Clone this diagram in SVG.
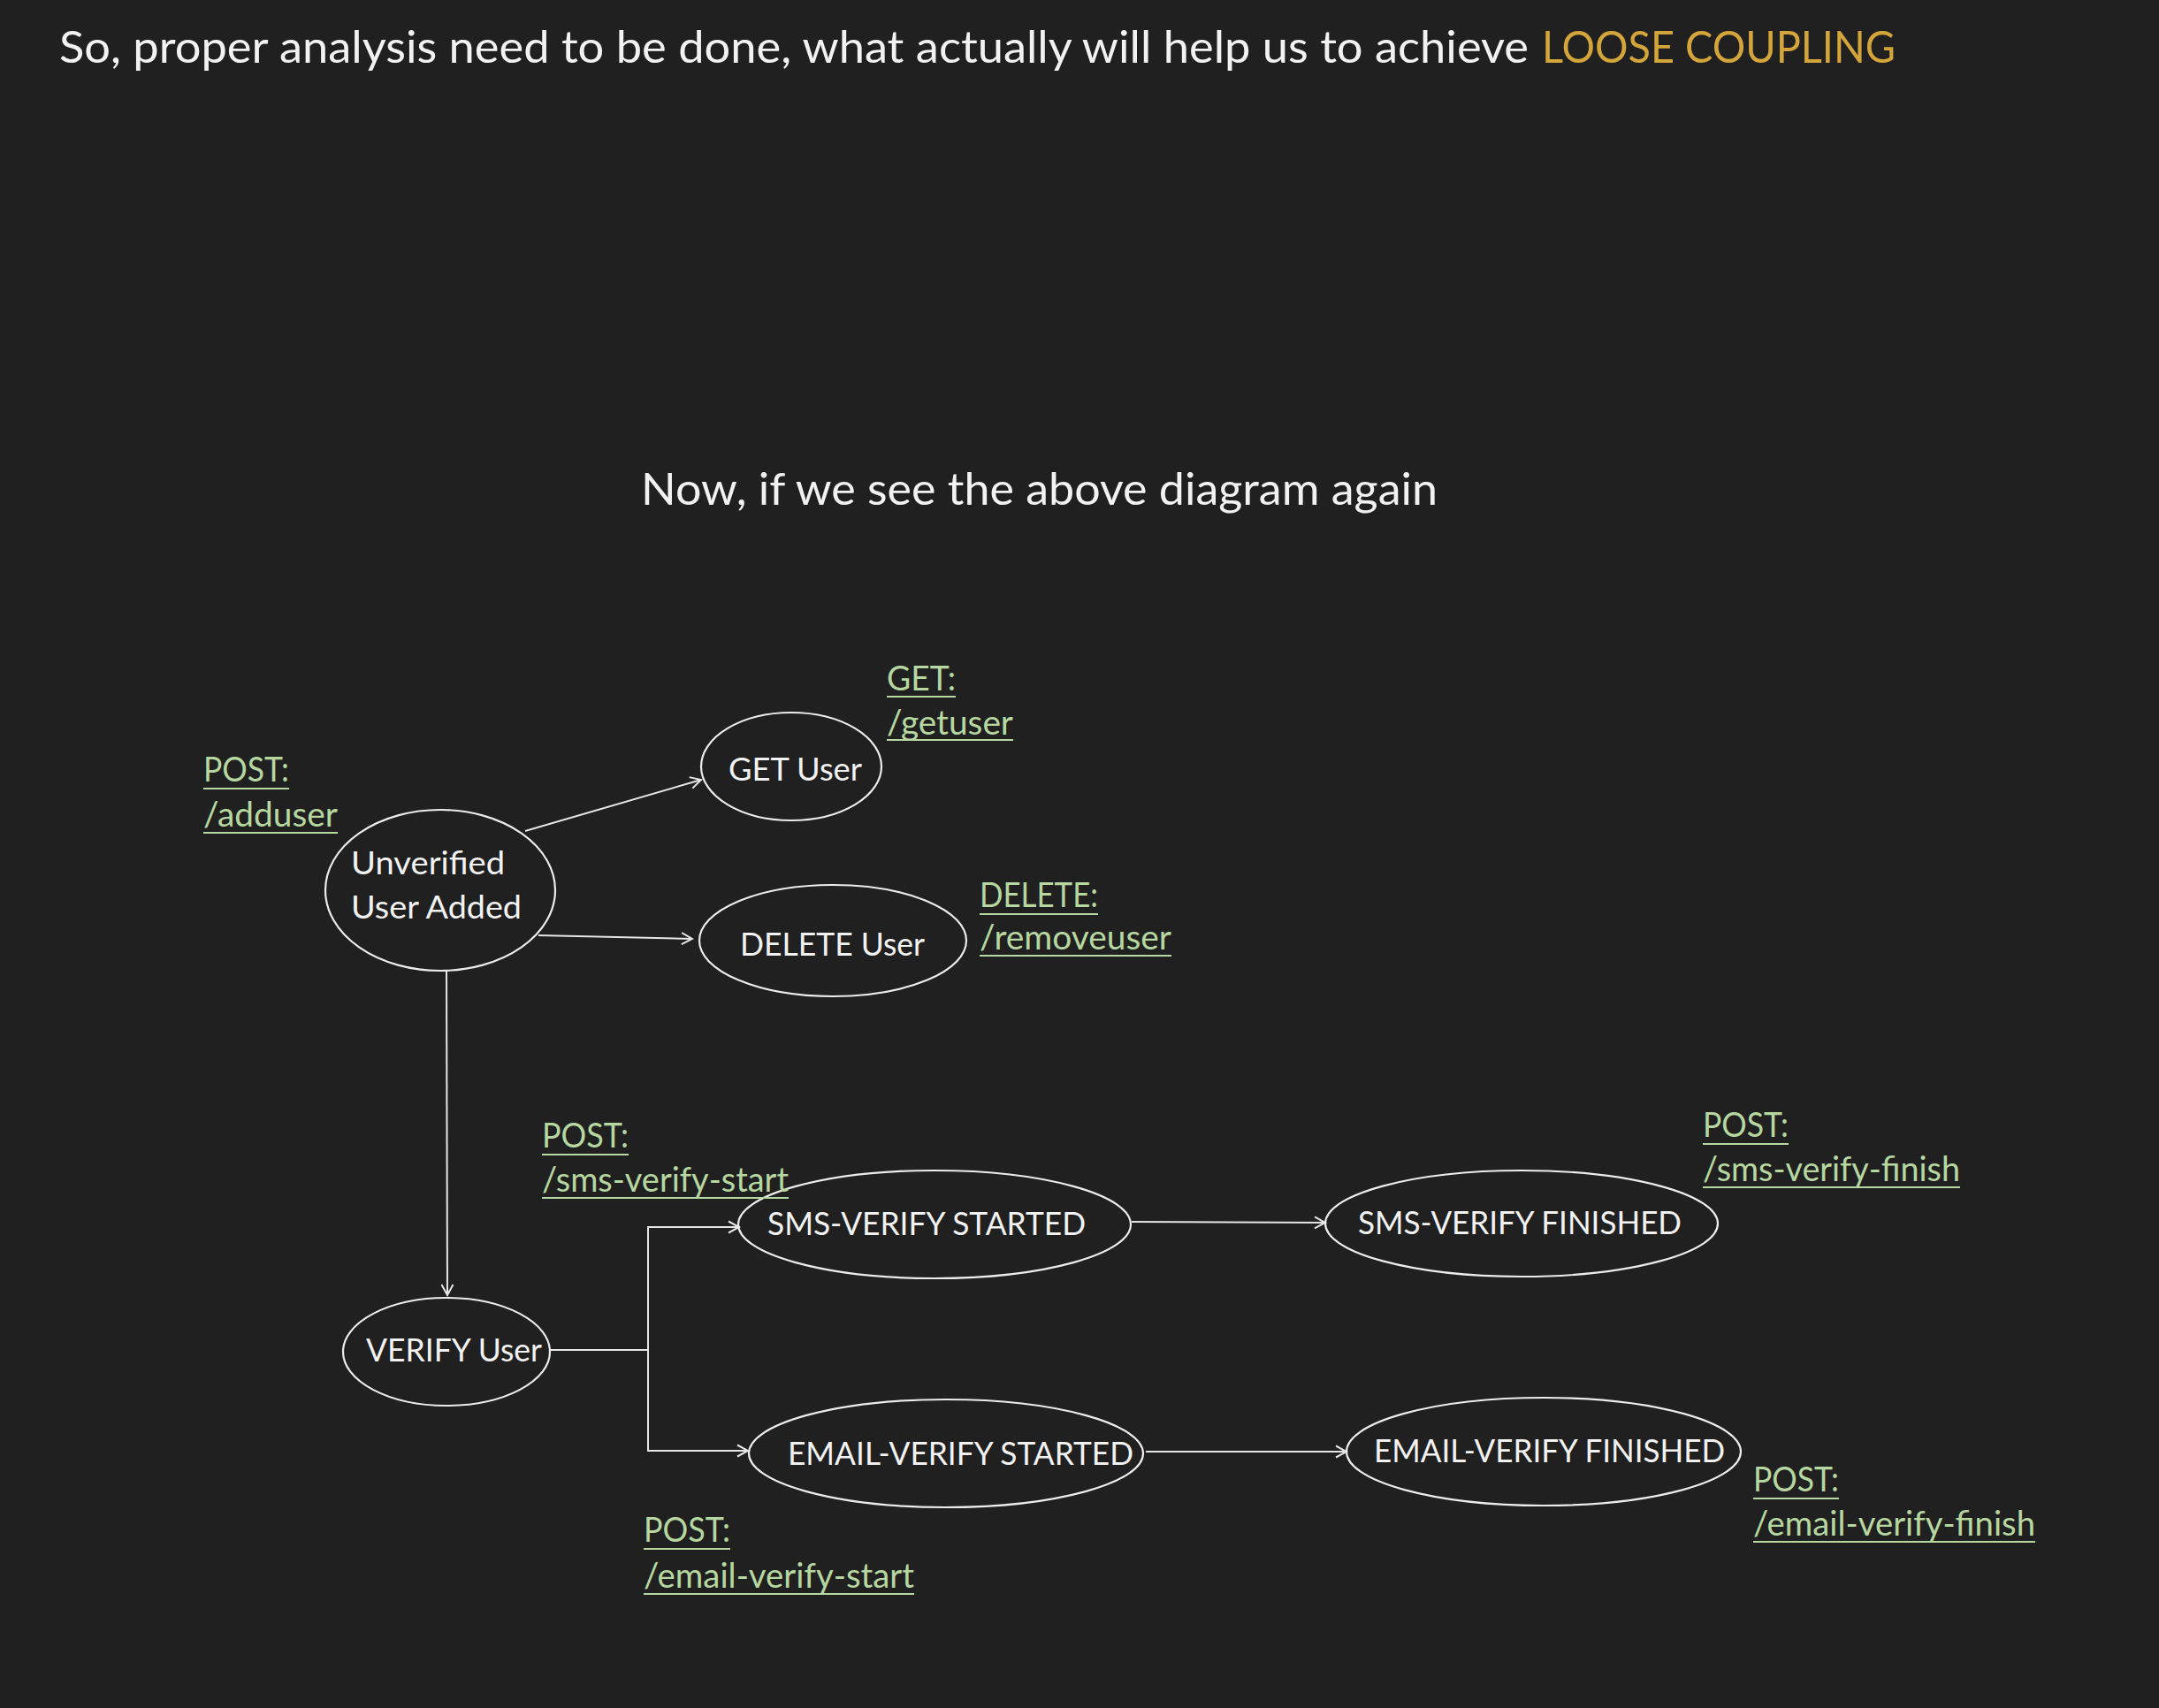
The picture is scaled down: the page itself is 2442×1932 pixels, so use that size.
<svg xmlns="http://www.w3.org/2000/svg" width="2442" height="1932" viewBox="0 0 2442 1932">
<style>
.bg{fill:#202020}
.node ellipse{fill:none;stroke:#ececec;stroke-width:2.2}
.nt{font-family:Lato,"Open Sans","Liberation Sans",sans-serif;font-size:37px;fill:#f2f2f2}
.lbl{font-family:Lato,"Open Sans","Liberation Sans",sans-serif;font-size:38px;fill:#b7d7a0}
.ul{stroke:#b7d7a0;stroke-width:2.2}
.head{font-family:Lato,"Open Sans","Liberation Sans",sans-serif;font-size:50px;fill:#f2f2f2}
.gold{fill:#d4a53a}
.conn{fill:none;stroke:#e6e6e6;stroke-width:2}
</style>
<defs>
<marker id="arr" markerUnits="userSpaceOnUse" markerWidth="16" markerHeight="16" viewBox="0 0 16 16" refX="14" refY="8" orient="auto">
<path d="M2,1.5 L14,8 L2,14.5" fill="none" stroke="#e6e6e6" stroke-width="2"/>
</marker>
</defs>
<rect class="bg" x="0" y="0" width="2442" height="1932"/>

<g id="titles">
<text class="head" x="67" y="71" textLength="1662" lengthAdjust="spacingAndGlyphs">So, proper analysis need to be done, what actually will help us to achieve</text>
<text class="head gold" x="1744" y="71" textLength="400" lengthAdjust="spacingAndGlyphs">LOOSE COUPLING</text>
<text class="head" x="725" y="571" textLength="901" lengthAdjust="spacingAndGlyphs">Now, if we see the above diagram again</text>
</g>

<g id="connectors">
<line class="conn" x1="594" y1="940" x2="793" y2="882" marker-end="url(#arr)"/>
<line class="conn" x1="609" y1="1058" x2="783" y2="1062" marker-end="url(#arr)"/>
<line class="conn" x1="505" y1="1098" x2="506" y2="1465" marker-end="url(#arr)"/>
<polyline class="conn" points="623,1527 733,1527 733,1388 836,1388" marker-end="url(#arr)"/>
<polyline class="conn" points="733,1527 733,1641 846,1641" marker-end="url(#arr)"/>
<line class="conn" x1="1280" y1="1382" x2="1499" y2="1383" marker-end="url(#arr)"/>
<line class="conn" x1="1296" y1="1642" x2="1523" y2="1642" marker-end="url(#arr)"/>
</g>

<g id="node-unverified" class="node">
<ellipse cx="498" cy="1007" rx="130" ry="91"/>
<text class="nt" x="397" y="989" textLength="174" lengthAdjust="spacingAndGlyphs">Unverified</text>
<text class="nt" x="397" y="1039" textLength="193" lengthAdjust="spacingAndGlyphs">User Added</text>
</g>
<g id="node-get" class="node">
<ellipse cx="895" cy="867" rx="102" ry="61"/>
<text class="nt" x="824" y="883" textLength="151" lengthAdjust="spacingAndGlyphs">GET User</text>
</g>
<g id="node-delete" class="node">
<ellipse cx="942" cy="1064" rx="151" ry="63"/>
<text class="nt" x="837" y="1081" textLength="209" lengthAdjust="spacingAndGlyphs">DELETE User</text>
</g>
<g id="node-verify" class="node">
<ellipse cx="505" cy="1529" rx="117" ry="61"/>
<text class="nt" x="414" y="1540" textLength="199" lengthAdjust="spacingAndGlyphs">VERIFY User</text>
</g>
<g id="node-sms-started" class="node">
<ellipse cx="1057" cy="1385" rx="222" ry="61"/>
<text class="nt" x="868" y="1397" textLength="360" lengthAdjust="spacingAndGlyphs">SMS-VERIFY STARTED</text>
</g>
<g id="node-sms-finished" class="node">
<ellipse cx="1721" cy="1384" rx="222" ry="60"/>
<text class="nt" x="1536" y="1396" textLength="366" lengthAdjust="spacingAndGlyphs">SMS-VERIFY FINISHED</text>
</g>
<g id="node-email-started" class="node">
<ellipse cx="1070" cy="1644" rx="223" ry="61"/>
<text class="nt" x="891" y="1657" textLength="391" lengthAdjust="spacingAndGlyphs">EMAIL-VERIFY STARTED</text>
</g>
<g id="node-email-finished" class="node">
<ellipse cx="1746" cy="1642" rx="223" ry="61"/>
<text class="nt" x="1554" y="1654" textLength="397" lengthAdjust="spacingAndGlyphs">EMAIL-VERIFY FINISHED</text>
</g>

<g id="labels">
<g id="lbl-adduser">
<text class="lbl" x="230" y="884" textLength="97" lengthAdjust="spacingAndGlyphs">POST:</text>
<line class="ul" x1="230" y1="892" x2="327" y2="892"/>
<text class="lbl" x="230" y="935" textLength="152" lengthAdjust="spacingAndGlyphs">/adduser</text>
<line class="ul" x1="230" y1="942" x2="382" y2="942"/>
</g>
<g id="lbl-getuser">
<text class="lbl" x="1003" y="781" textLength="78" lengthAdjust="spacingAndGlyphs">GET:</text>
<line class="ul" x1="1003" y1="788" x2="1081" y2="788"/>
<text class="lbl" x="1003" y="831" textLength="143" lengthAdjust="spacingAndGlyphs">/getuser</text>
<line class="ul" x1="1003" y1="837" x2="1146" y2="837"/>
</g>
<g id="lbl-removeuser">
<text class="lbl" x="1108" y="1026" textLength="134" lengthAdjust="spacingAndGlyphs">DELETE:</text>
<line class="ul" x1="1108" y1="1034" x2="1242" y2="1034"/>
<text class="lbl" x="1108" y="1074" textLength="217" lengthAdjust="spacingAndGlyphs">/removeuser</text>
<line class="ul" x1="1108" y1="1081" x2="1325" y2="1081"/>
</g>
<g id="lbl-sms-start">
<text class="lbl" x="613" y="1298" textLength="98" lengthAdjust="spacingAndGlyphs">POST:</text>
<line class="ul" x1="613" y1="1306" x2="711" y2="1306"/>
<text class="lbl" x="613" y="1348" textLength="279" lengthAdjust="spacingAndGlyphs">/sms-verify-start</text>
<line class="ul" x1="613" y1="1355" x2="892" y2="1355"/>
</g>
<g id="lbl-sms-finish">
<text class="lbl" x="1926" y="1286" textLength="97" lengthAdjust="spacingAndGlyphs">POST:</text>
<line class="ul" x1="1926" y1="1294" x2="2023" y2="1294"/>
<text class="lbl" x="1926" y="1336" textLength="291" lengthAdjust="spacingAndGlyphs">/sms-verify-finish</text>
<line class="ul" x1="1926" y1="1343" x2="2217" y2="1343"/>
</g>
<g id="lbl-email-start">
<text class="lbl" x="728" y="1744" textLength="98" lengthAdjust="spacingAndGlyphs">POST:</text>
<line class="ul" x1="728" y1="1752" x2="826" y2="1752"/>
<text class="lbl" x="728" y="1796" textLength="306" lengthAdjust="spacingAndGlyphs">/email-verify-start</text>
<line class="ul" x1="728" y1="1803" x2="1034" y2="1803"/>
</g>
<g id="lbl-email-finish">
<text class="lbl" x="1983" y="1687" textLength="97" lengthAdjust="spacingAndGlyphs">POST:</text>
<line class="ul" x1="1983" y1="1695" x2="2080" y2="1695"/>
<text class="lbl" x="1983" y="1737" textLength="319" lengthAdjust="spacingAndGlyphs">/email-verify-finish</text>
<line class="ul" x1="1983" y1="1744" x2="2302" y2="1744"/>
</g>
</g>
</svg>
